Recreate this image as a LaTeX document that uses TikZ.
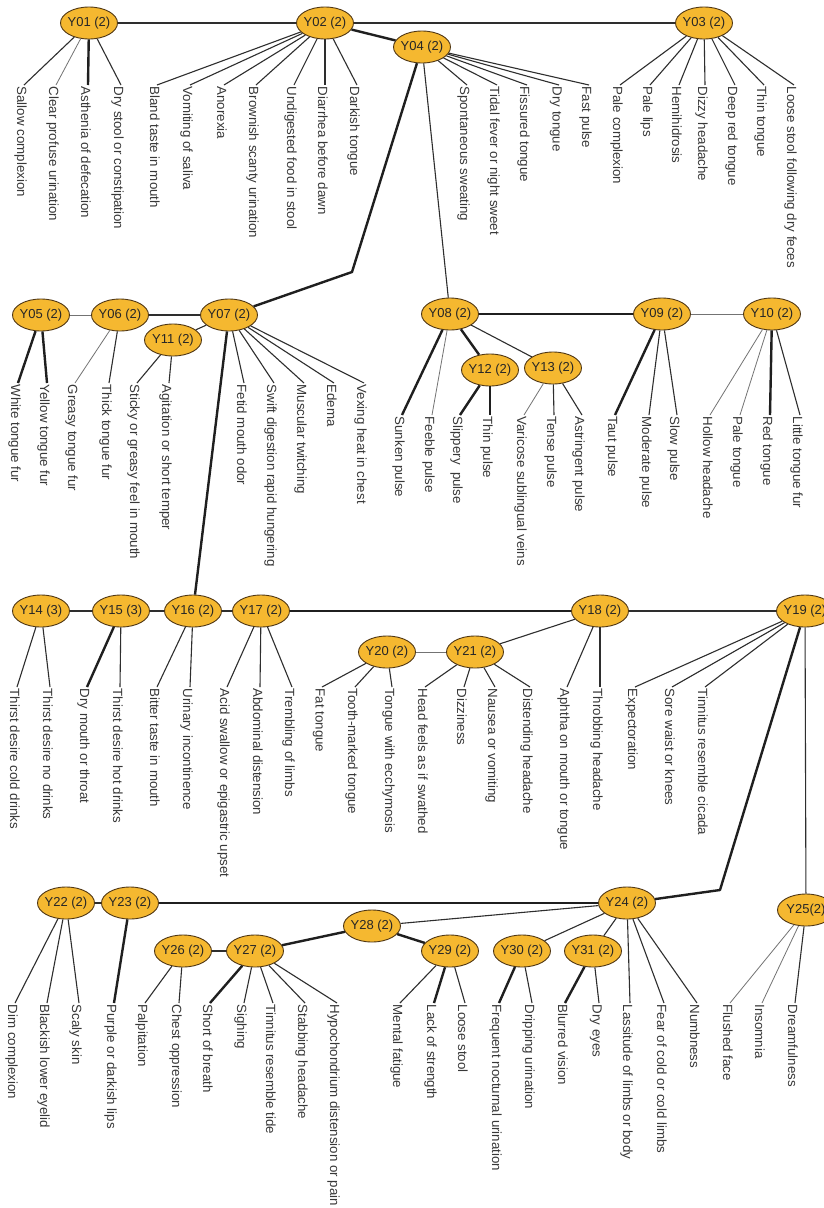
\documentclass[tikz,border=0pt]{standalone}
\usepackage{fontspec}
\setmainfont{Liberation Sans}
\usetikzlibrary{shapes.geometric}
\definecolor{nodefill}{RGB}{245,184,48}
\definecolor{nodedraw}{RGB}{80,55,20}
\tikzset{
  ynode/.style={ellipse, draw=nodedraw, line width=0.9pt, fill=nodefill,
    minimum width=57pt, minimum height=32pt, inner xsep=-3pt, inner ysep=0pt,
    font=\fontsize{13}{15}\selectfont, text=black!85},
  lab/.style={rotate=-90, anchor=north west, inner xsep=1.5pt, inner ysep=0pt,
    font=\fontsize{13.3}{15}\selectfont, text=black!78},
  ln/.style={line width=1.1pt, draw=black!82, line join=round},
  lnk/.style={line width=2.4pt, draw=black!88, line join=round},
  lnt/.style={line width=0.8pt, draw=black!55},
}
\newcommand{\leaf}[6][ln]{%
  \node[lab, xshift=3pt] (#2) at (#3,#4) {#5};
  \draw[#1] (#6) -- ([xshift=-3pt]#2.north west);}

\begin{document}
\begin{tikzpicture}[x=1pt,y=-1pt]
\useasboundingbox (0,0) rectangle (823,1208);
\fill[white] (0,0) rectangle (823,1208);

% ---------- nodes ----------
\node[ynode] (Y01) at (89,23) {Y01 (2)};
\node[ynode] (Y02) at (325,23) {Y02 (2)};
\node[ynode] (Y03) at (704,23) {Y03 (2)};
\node[ynode] (Y04) at (422,47) {Y04 (2)};

\node[ynode] (Y05) at (41,315) {Y05 (2)};
\node[ynode] (Y06) at (120,315) {Y06 (2)};
\node[ynode] (Y07) at (229,315) {Y07 (2)};
\node[ynode] (Y11) at (173,340) {Y11 (2)};
\node[ynode] (Y08) at (450,314) {Y08 (2)};
\node[ynode] (Y12) at (490,370) {Y12 (2)};
\node[ynode] (Y13) at (553,368) {Y13 (2)};
\node[ynode] (Y09) at (662,314) {Y09 (2)};
\node[ynode] (Y10) at (772,314) {Y10 (2)};

\node[ynode] (Y14) at (41,611) {Y14 (3)};
\node[ynode] (Y15) at (121,611) {Y15 (3)};
\node[ynode] (Y16) at (193,611) {Y16 (2)};
\node[ynode] (Y17) at (261,611) {Y17 (2)};
\node[ynode] (Y20) at (387,652) {Y20 (2)};
\node[ynode] (Y21) at (475,652) {Y21 (2)};
\node[ynode] (Y18) at (600,611) {Y18 (2)};
\node[ynode] (Y19) at (805,611) {Y19 (2)};

\node[ynode] (Y22) at (66,903) {Y22 (2)};
\node[ynode] (Y23) at (130,903) {Y23 (2)};
\node[ynode] (Y26) at (183,951) {Y26 (2)};
\node[ynode] (Y27) at (255,951) {Y27 (2)};
\node[ynode] (Y28) at (372,926) {Y28 (2)};
\node[ynode] (Y29) at (450,951) {Y29 (2)};
\node[ynode] (Y30) at (522,951) {Y30 (2)};
\node[ynode] (Y24) at (627,903) {Y24 (2)};
\node[ynode] (Y31) at (593,951) {Y31 (2)};
\node[ynode] (Y25) at (806,910) {Y25(2)};

\coordinate (b1) at (352,272);
\coordinate (b2) at (720,890);

% ---------- links between latent nodes ----------
\draw[ln, line width=1.4pt] (Y01) -- (Y02);
\draw[ln] (Y02) -- (Y03);
\draw[lnk] (Y02) -- (Y04);
\draw[lnk] (Y04) -- (b1) -- (Y07);
\draw[ln] (Y04) -- (Y08);
\draw[lnt] (Y05) -- (Y06);
\draw[ln] (Y06) -- (Y07);
\draw[ln] (Y07) -- (Y11);
\draw[lnk] (Y07) -- (Y16);
\draw[lnk] (Y08) -- (Y09);
\draw[lnt] (Y09) -- (Y10);
\draw[lnk] (Y08) -- (Y12);
\draw[ln] (Y08) -- (Y13);
\draw[ln] (Y14) -- (Y15);
\draw[ln] (Y15) -- (Y16);
\draw[ln] (Y16) -- (Y17);
\draw[lnk] (Y17) -- (Y18);
\draw[ln, line width=1.6pt] (Y18) -- (Y19);
\draw[lnt] (Y20) -- (Y21);
\draw[ln] (Y21) -- (Y18);
\draw[lnk] (Y19) -- (b2) -- (Y24);
\draw[ln] (Y19) -- (Y25);
\draw[ln] (Y22) -- (Y23);
\draw[lnk] (Y23) -- (Y24);
\draw[ln] (Y24) -- (Y28);
\draw[ln] (Y24) -- (Y30);
\draw[ln] (Y24) -- (Y31);
\draw[lnk] (Y28) -- (Y27);
\draw[lnk] (Y28) -- (Y29);
\draw[ln] (Y26) -- (Y27);

% ---------- row 1 leaves ----------
\leaf{a1}{27}{82}{Sallow complexion}{Y01}
\leaf[lnt]{a2}{59}{82}{Clear profuse urination}{Y01}
\leaf[lnk]{a3}{91}{82}{Asthenia of defecation}{Y01}
\leaf{a4}{124}{82}{Dry stool or constipation}{Y01}
\leaf{b01}{160}{82}{Bland taste in mouth}{Y02}
\leaf{b02}{193}{82}{Vomiting of saliva}{Y02}
\leaf{b03}{227}{82}{Anorexia}{Y02}
\leaf{b04}{259}{82}{Brownish scanty urination}{Y02}
\leaf{b05}{297}{82}{Undigested food in stool}{Y02}
\leaf{b06}{328}{82}{Diarrhea before dawn}{Y02}
\leaf{b07}{360}{82}{Darkish tongue}{Y02}
\leaf{c01}{470}{82}{Spontaneous sweating}{Y04}
\leaf{c02}{500}{82}{Tidal fever or night sweet}{Y04}
\leaf{c03}{530}{82}{Fissured tongue}{Y04}
\leaf{c04}{562}{82}{Dry tongue}{Y04}
\leaf{c05}{592}{82}{Fast pulse}{Y04}
\leaf{d01}{623}{82}{Pale complexion}{Y03}
\leaf{d02}{653}{82}{Pale lips}{Y03}
\leaf{d03}{682}{82}{Hemihidrosis}{Y03}
\leaf{d04}{708}{82}{Dizzy headache}{Y03}
\leaf{d05}{738}{82}{Deep red tongue}{Y03}
\leaf{d06}{767}{82}{Thin tongue}{Y03}
\leaf{d07}{797}{82}{Loose stool following dry feces}{Y03}

% ---------- row 2 leaves ----------
\leaf[lnk]{e01}{21}{380}{White tongue fur}{Y05}
\leaf[lnk]{e02}{50}{380}{Yellow tongue fur}{Y05}
\leaf[lnt]{e03}{78}{380}{Greasy tongue fur}{Y06}
\leaf{e04}{112}{380}{Thick tongue fur}{Y06}
\leaf{e05}{140}{380}{Sticky or greasy feel in mouth}{Y11}
\leaf{e06}{172}{380}{Agitation or short temper}{Y11}
\leaf{e07}{247}{380}{Fetid mouth odor}{Y07}
\leaf{e08}{277}{380}{Swift digestion rapid hungering}{Y07}
\leaf{e09}{307}{380}{Muscular twitching}{Y07}
\leaf{e10}{337}{380}{Edema}{Y07}
\leaf{e11}{367}{380}{Vexing heat in chest}{Y07}
\leaf[lnk]{f01}{405}{412}{Sunken pulse}{Y08}
\leaf[lnt]{f02}{435}{412}{Feeble pulse}{Y08}
\leaf[lnk]{f03}{463}{412}{Slippery\ \ pulse}{Y12}
\leaf[lnk]{f04}{493}{412}{Thin pulse}{Y12}
\leaf[lnt]{f05}{527}{412}{Varicose sublingual veins}{Y13}
\leaf{f06}{557}{412}{Tense pulse}{Y13}
\leaf{f07}{585}{412}{Astringent pulse}{Y13}
\leaf[lnk]{f08}{618}{412}{Taut pulse}{Y09}
\leaf{f09}{652}{412}{Moderate pulse}{Y09}
\leaf{f10}{680}{412}{Slow pulse}{Y09}
\leaf[lnt]{f11}{713}{412}{Hollow headache}{Y10}
\leaf[lnt]{f12}{743}{412}{Pale tongue}{Y10}
\leaf[lnk]{f13}{773}{412}{Red tongue}{Y10}
\leaf{f14}{803}{412}{Little tongue fur}{Y10}

% ---------- row 3 leaves ----------
\leaf{g01}{20}{684}{Thirst desire cold drinks}{Y14}
\leaf{g02}{53}{684}{Thirst desire no drinks}{Y14}
\leaf[lnk]{g03}{90}{684}{Dry mouth or throat}{Y15}
\leaf{g04}{123}{684}{Thirst desire hot drinks}{Y15}
\leaf{g05}{160}{684}{Bitter taste in mouth}{Y16}
\leaf{g06}{193}{684}{Urinary incontinence}{Y16}
\leaf{g07}{230}{684}{Acid swallow or epigastric upset}{Y17}
\leaf{g08}{263}{684}{Abdominal distension}{Y17}
\leaf{g09}{295}{684}{Trembling of limbs}{Y17}
\leaf{h01}{325}{684}{Fat tongue}{Y20}
\leaf{h02}{358}{684}{Tooth-marked tongue}{Y20}
\leaf{h03}{395}{684}{Tongue with ecchymosis}{Y20}
\leaf{h04}{428}{684}{Head feels as if swathed}{Y21}
\leaf{h05}{467}{684}{Dizziness}{Y21}
\leaf{h06}{498}{684}{Nausea or vomiting}{Y21}
\leaf{h07}{533}{684}{Distending headache}{Y21}
\leaf{i01}{570}{684}{Aphtha on mouth or tongue}{Y18}
\leaf{i02}{603}{684}{Throbbing headache}{Y18}
\leaf{i03}{638}{684}{Expectoration}{Y19}
\leaf{i04}{675}{684}{Sore waist or knees}{Y19}
\leaf{i05}{708}{684}{Tinnitus resemble cicada}{Y19}

% ---------- row 4 leaves ----------
\leaf{j01}{18}{1000}{Dim complexion}{Y22}
\leaf{j02}{50}{1000}{Blackish lower eyelid}{Y22}
\leaf{j03}{82}{1000}{Scaly skin}{Y22}
\leaf[lnk]{j04}{117}{1000}{Purple or darkish lips}{Y23}
\leaf{j05}{148}{1000}{Palpitation}{Y26}
\leaf{j06}{182}{1000}{Chest oppression}{Y26}
\leaf[lnk]{j07}{213}{1000}{Short of breath}{Y27}
\leaf{j08}{247}{1000}{Sighing}{Y27}
\leaf{j09}{276}{1000}{Tinnitus resemble tide}{Y27}
\leaf{j10}{308}{1000}{Stabbing headache}{Y27}
\leaf{j11}{340}{1000}{Hypochondrium distension or pain}{Y27}
\leaf{k01}{403}{1000}{Mental fatigue}{Y29}
\leaf[lnk]{k02}{437}{1000}{Lack of strength}{Y29}
\leaf{k03}{468}{1000}{Loose stool}{Y29}
\leaf[lnk]{k04}{502}{1000}{Frequent nocturnal urination}{Y30}
\leaf{k05}{535}{1000}{Dripping urination}{Y30}
\leaf[lnk]{k06}{568}{1000}{Blurred vision}{Y31}
\leaf{k07}{602}{1000}{Dry eyes}{Y31}
\leaf{k08}{633}{1000}{Lassitude of limbs or body}{Y24}
\leaf{k09}{667}{1000}{Fear of cold or cold limbs}{Y24}
\leaf{k10}{700}{1000}{Numbness}{Y24}
\leaf[lnt]{k11}{733}{1000}{Flushed face}{Y25}
\leaf[lnt]{k12}{765}{1000}{Insomnia}{Y25}
\leaf{k13}{798}{1000}{Dreamfulness}{Y25}
\end{tikzpicture}
\end{document}
